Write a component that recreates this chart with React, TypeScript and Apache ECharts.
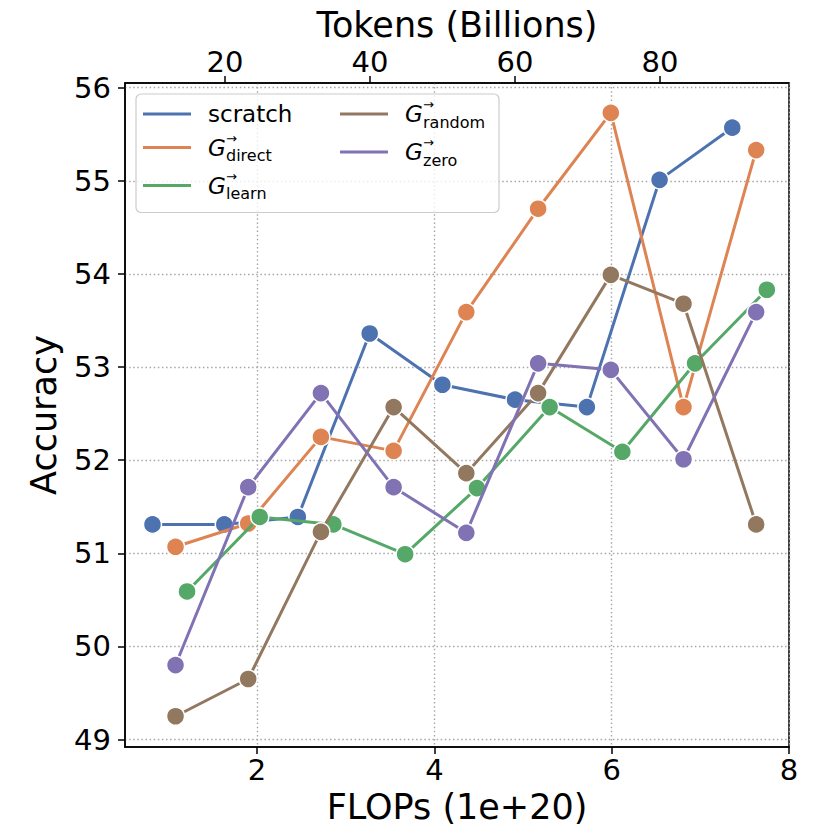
import React, { useEffect, useRef } from "react";
import * as echarts from "echarts";

const seriesNames = ["scratch", "direct", "learn", "random", "zero"];
const seriesColors = ["#4C72B0", "#DD8452", "#55A868", "#937860", "#8172B3"];

const scratchX = [0.82, 1.63, 2.46, 3.27, 4.09, 4.91, 5.72, 6.54, 7.36];
const scratchY = [51.31, 51.31, 51.39, 53.36, 52.81, 52.65, 52.57, 55.01, 55.57];

const directX = [1.08, 1.9, 2.72, 3.54, 4.36, 5.17, 5.99, 6.81, 7.63];
const directY = [51.07, 51.32, 52.25, 52.1, 53.59, 54.7, 55.73, 52.57, 55.33];

const learnX = [1.21, 2.03, 2.86, 3.67, 4.48, 5.3, 6.12, 6.94, 7.75];
const learnY = [50.59, 51.39, 51.31, 50.99, 51.7, 52.57, 52.09, 53.04, 53.83];

const randomX = [1.08, 1.9, 2.72, 3.54, 4.36, 5.17, 5.99, 6.81, 7.63];
const randomY = [49.25, 49.65, 51.23, 52.57, 51.86, 52.72, 53.99, 53.68, 51.31];

const zeroX = [1.08, 1.9, 2.72, 3.54, 4.36, 5.17, 5.99, 6.81, 7.63];
const zeroY = [49.8, 51.71, 52.72, 51.71, 51.22, 53.04, 52.97, 52.01, 53.59];

const flopsTicks = [2, 4, 6, 8];
const tokenTicks = [20, 40, 60, 80];
const accuracyTicks = [49, 50, 51, 52, 53, 54, 55, 56];

const xs = [scratchX, directX, learnX, randomX, zeroX];
const ys = [scratchY, directY, learnY, randomY, zeroY];
const legendColumn = [1, 1, 1, 2, 2];

const FONT = "DejaVu Sans";

export default function App() {
  const ref = useRef<HTMLDivElement>(null);
  useEffect(() => {
    if (!ref.current) return;
    const chart = echarts.init(ref.current, undefined, { renderer: "svg" });
    const gridLine = { show: true, lineStyle: { color: "#a6a6a6", width: 1.4, type: [1.5, 2.6] } };
    const tickStyle = { show: true, length: 7, lineStyle: { color: "#000", width: 1.5 } };
    const labelStyle = { color: "#000", fontSize: 29, fontFamily: FONT };
    const nameStyle = { color: "#000", fontSize: 35, fontFamily: FONT };
    const option: any = {
      animation: false,
      backgroundColor: "#fff",
      grid: {
        left: 125, top: 83, width: 664, height: 664,
        outerBoundsMode: "none", containLabel: false,
        show: true, borderColor: "#000", borderWidth: 1.5, backgroundColor: "transparent",
      },
      xAxis: [
        {
          type: "value", position: "bottom", min: 0.51, max: 8.0,
          name: "FLOPs (1e+20)", nameLocation: "middle", nameGap: 42, nameMoveOverlap: false, nameTextStyle: nameStyle,
          axisLine: { show: true, lineStyle: { color: "#000", width: 1.5 } },
          axisTick: { ...tickStyle, customValues: flopsTicks },
          axisLabel: { ...labelStyle, margin: 8, customValues: flopsTicks },
          splitLine: gridLine,
        },
        {
          type: "value", position: "top", min: 6.2, max: 97.8,
          name: "Tokens (Billions)", nameLocation: "middle", nameGap: 41, nameMoveOverlap: false, nameTextStyle: nameStyle,
          axisLine: { show: true, lineStyle: { color: "#000", width: 1.5 } },
          axisTick: { ...tickStyle, customValues: tokenTicks },
          axisLabel: { ...labelStyle, margin: 7, customValues: tokenTicks },
          splitLine: { show: false },
        },
      ],
      yAxis: {
        type: "value", min: 48.92, max: 56.05,
        name: "Accuracy", nameLocation: "middle", nameGap: 64, nameMoveOverlap: false, nameTextStyle: nameStyle,
        axisLine: { show: true, lineStyle: { color: "#000", width: 1.5 } },
        axisTick: { ...tickStyle, customValues: accuracyTicks },
        axisLabel: { ...labelStyle, margin: 14, customValues: accuracyTicks },
        splitLine: gridLine,
      },
      legend: {
        orient: "vertical", left: 136, top: 94, height: 114,
        itemWidth: 48, itemHeight: 3, itemGap: 6, icon: "rect",
        padding: [4, 8, 11, 7],
        backgroundColor: "rgba(255,255,255,0.8)", borderColor: "#cccccc", borderWidth: 1.2, borderRadius: 5,
        data: seriesNames.map((n, i) => ({ name: n, itemStyle: { color: seriesColors[i], borderWidth: 0 } })),
        formatter: (name: string) => {
          const col = legendColumn[seriesNames.indexOf(name)];
          if (name === "scratch") return "{n1|scratch}";
          return `{g|G}{ar|→}{sub${col}|${name}}`;
        },
        textStyle: {
          padding: [0, 0, 0, 12],
          overflow: "none",
          rich: {
            n1: { fontSize: 23, fontFamily: FONT, color: "#000", lineHeight: 32, width: 126, verticalAlign: "middle" },
            g: { fontSize: 23, fontFamily: FONT, fontStyle: "italic", color: "#000", lineHeight: 32, width: 18, verticalAlign: "middle" },
            ar: { fontSize: 13, fontFamily: FONT, color: "#000", lineHeight: 14, width: 0.01, verticalAlign: "top" },
            sub1: { fontSize: 16, fontFamily: FONT, color: "#000", lineHeight: 18, width: 108, verticalAlign: "bottom" },
            sub2: { fontSize: 16, fontFamily: FONT, color: "#000", lineHeight: 18, width: 68, verticalAlign: "bottom" },
          },
        },
      },
      series: seriesNames.map((n, i) => ({
        name: n,
        type: "line",
        xAxisIndex: 0,
        data: xs[i].map((x, j) => [x, ys[i][j]]),
        symbol: "circle",
        symbolSize: 18,
        itemStyle: { color: seriesColors[i], borderColor: "#fff", borderWidth: 1.5 },
        lineStyle: { color: seriesColors[i], width: 3 },
        z: 2 + i,
      })),
    };
    chart.setOption(option);
    return () => chart.dispose();
  }, []);
  return <div ref={ref} style={{ position: "absolute", left: 0, top: 0, width: 830, height: 830 }} />;
}
